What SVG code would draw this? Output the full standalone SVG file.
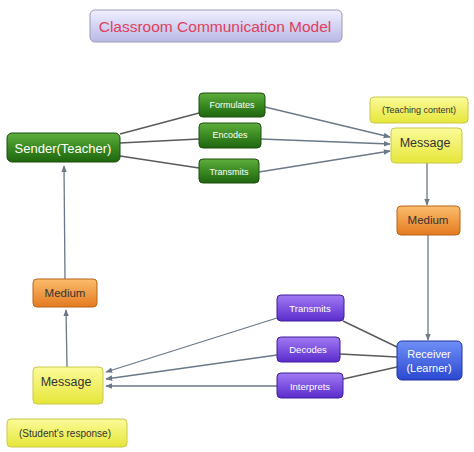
<svg xmlns="http://www.w3.org/2000/svg" width="474" height="452" viewBox="0 0 474 452">
<defs>
<linearGradient id="gGreen" x1="0" y1="0" x2="0" y2="1"><stop offset="0" stop-color="#5fae3e"/><stop offset="0.5" stop-color="#3a8a22"/><stop offset="1" stop-color="#1f660f"/></linearGradient>
<linearGradient id="gYellow" x1="0" y1="0" x2="0" y2="1"><stop offset="0" stop-color="#fbfb9a"/><stop offset="1" stop-color="#e6e63a"/></linearGradient>
<linearGradient id="gOrange" x1="0" y1="0" x2="0" y2="1"><stop offset="0" stop-color="#fbbd6c"/><stop offset="1" stop-color="#e47a20"/></linearGradient>
<linearGradient id="gPurple" x1="0" y1="0" x2="0" y2="1"><stop offset="0" stop-color="#a27af4"/><stop offset="1" stop-color="#5a2ccc"/></linearGradient>
<linearGradient id="gBlue" x1="0" y1="0" x2="0" y2="1"><stop offset="0" stop-color="#7090f8"/><stop offset="1" stop-color="#2a48d0"/></linearGradient>
<linearGradient id="gTitle" x1="0" y1="0" x2="0" y2="1"><stop offset="0" stop-color="#f0f0ff"/><stop offset="1" stop-color="#b8b8e6"/></linearGradient>
<marker id="arr" viewBox="0 0 10 10" refX="9" refY="5" markerWidth="7" markerHeight="7" orient="auto-start-reverse" markerUnits="userSpaceOnUse"><path d="M0,1 L10,5 L0,9 z" fill="#6a7888"/></marker>
</defs>
<style>
text{font-family:"Liberation Sans",Arial,sans-serif;text-anchor:middle;dominant-baseline:central}
.green{fill:url(#gGreen);stroke:#1c4f0c;stroke-width:1}
.yellow{fill:url(#gYellow);stroke:#c9c84a;stroke-width:1}
.orange{fill:url(#gOrange);stroke:#b8641a;stroke-width:1}
.purple{fill:url(#gPurple);stroke:#3e1e98;stroke-width:1}
.blue{fill:url(#gBlue);stroke:#2232a0;stroke-width:1}
.wt{fill:#ffffff}
.dk{fill:#333333}
.ln{stroke:#5a5a5a;stroke-width:1.4;fill:none}
.ar{stroke:#6a7888;stroke-width:1.3;fill:none;marker-end:url(#arr)}
</style>
<rect width="474" height="452" fill="#ffffff"/>
<g id="title">
<rect x="90" y="10" width="252" height="32" rx="5" fill="url(#gTitle)" stroke="#9a9ab8"/>
<text x="215" y="26" font-size="15.5" fill="#e0405c">Classroom Communication Model</text>
</g>
<g id="connectors">
<line class="ln" x1="120" y1="134" x2="199" y2="113"/>
<line class="ln" x1="120" y1="143" x2="199" y2="139"/>
<line class="ln" x1="120" y1="156" x2="199" y2="168"/>
<line class="ar" x1="265" y1="107" x2="390" y2="137"/>
<line class="ar" x1="261" y1="139" x2="390" y2="144"/>
<line class="ar" x1="259" y1="172" x2="390" y2="151"/>
<line class="ar" x1="427" y1="163" x2="427" y2="205"/>
<line class="ar" x1="428" y1="235" x2="428" y2="340"/>
<line class="ln" x1="343" y1="321" x2="397" y2="347"/>
<line class="ln" x1="340" y1="354" x2="397" y2="357"/>
<line class="ln" x1="343" y1="379" x2="397" y2="367"/>
<line class="ar" x1="277" y1="318" x2="106" y2="372"/>
<line class="ar" x1="277" y1="355" x2="106" y2="379"/>
<line class="ar" x1="277" y1="386" x2="106" y2="386"/>
<line class="ar" x1="67" y1="367" x2="66" y2="310"/>
<line class="ar" x1="65" y1="279" x2="64" y2="166"/>
</g>
<g id="sender"><rect class="green" x="7" y="133" width="113" height="29" rx="5"/><text class="wt" x="63" y="148" font-size="13">Sender(Teacher)</text></g>
<g id="formulates"><rect class="green" x="199" y="93" width="66" height="24" rx="4"/><text class="wt" x="232" y="105" font-size="9">Formulates</text></g>
<g id="encodes"><rect class="green" x="199" y="123" width="62" height="25" rx="4"/><text class="wt" x="230" y="135" font-size="9">Encodes</text></g>
<g id="transmits-top"><rect class="green" x="199" y="159" width="60" height="24" rx="4"/><text class="wt" x="229" y="172" font-size="9">Transmits</text></g>
<g id="teaching-content"><rect class="yellow" x="370" y="97" width="98" height="26" rx="4"/><text class="dk" x="419" y="110" font-size="9">(Teaching content)</text></g>
<g id="message-top"><rect class="yellow" x="391" y="128" width="71" height="35" rx="4"/><text class="dk" x="425" y="143" font-size="12.5">Message</text></g>
<g id="medium-right"><rect class="orange" x="397" y="206" width="63" height="29" rx="4"/><text class="dk" x="428" y="220" font-size="11.5">Medium</text></g>
<g id="receiver"><rect class="blue" x="397" y="341" width="65" height="39" rx="5"/><text class="wt" x="429" y="354" font-size="11">Receiver</text><text class="wt" x="429" y="368" font-size="11">(Learner)</text></g>
<g id="transmits-bottom"><rect class="purple" x="277" y="295" width="67" height="26" rx="4"/><text class="wt" x="310" y="308" font-size="9.5">Transmits</text></g>
<g id="decodes"><rect class="purple" x="277" y="337" width="63" height="25" rx="4"/><text class="wt" x="308" y="349" font-size="9.5">Decodes</text></g>
<g id="interprets"><rect class="purple" x="277" y="373" width="66" height="25" rx="4"/><text class="wt" x="310" y="386" font-size="9.5">Interprets</text></g>
<g id="medium-left"><rect class="orange" x="33" y="279" width="64" height="28" rx="4"/><text class="dk" x="65" y="293" font-size="11.5">Medium</text></g>
<g id="message-bottom"><rect class="yellow" x="33" y="367" width="70" height="37" rx="4"/><text class="dk" x="66" y="382" font-size="12.5">Message</text></g>
<g id="students-response"><rect class="yellow" x="7" y="419" width="120" height="28" rx="4"/><text class="dk" x="65" y="433" font-size="10">(Student's response)</text></g>
</svg>
